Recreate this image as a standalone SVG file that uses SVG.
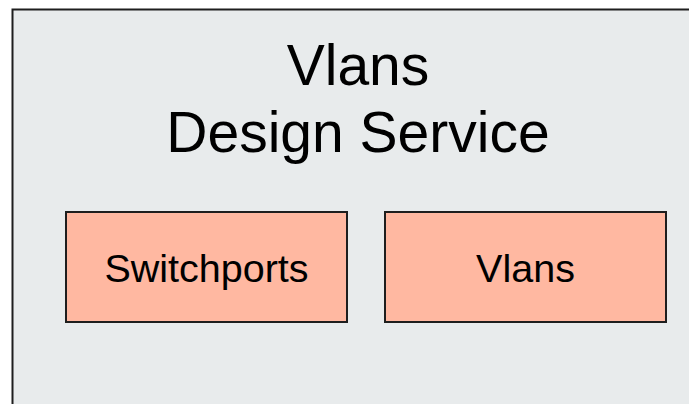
<svg xmlns="http://www.w3.org/2000/svg" width="689" height="404" viewBox="0 0 689 404">
  <style>
    .frame { fill: #e8ebec; stroke: #1e1e1e; stroke-width: 2; }
    .box { fill: #ffb8a1; stroke: #1e1e1e; stroke-width: 2; }
    .title { font-family: "Liberation Sans", Arial, sans-serif; font-size: 57px; fill: #000; text-anchor: middle; }
    .label { font-family: "Liberation Sans", Arial, sans-serif; font-size: 39.5px; fill: #000; text-anchor: middle; }
  </style>
  <rect width="689" height="404" fill="#ffffff"/>
  <g id="service">
    <rect class="frame" x="12.5" y="9.5" width="700" height="420"/>
    <text class="title" x="358" y="85">Vlans</text>
    <text class="title" x="358" y="152">Design Service</text>
  </g>
  <g id="switchports">
    <rect class="box" x="66" y="212" width="281" height="110"/>
    <text class="label" x="206.5" y="282">Switchports</text>
  </g>
  <g id="vlans">
    <rect class="box" x="385" y="212" width="281" height="110"/>
    <text class="label" x="525.5" y="282">Vlans</text>
  </g>
  <g id="connectors"/>
</svg>
